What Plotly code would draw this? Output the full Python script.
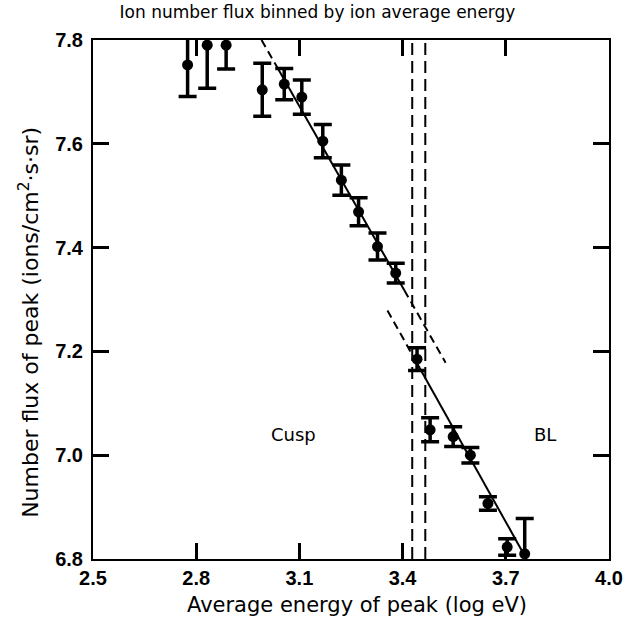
import plotly.graph_objects as go

# Binned ion number flux versus average ion energy
energy = [2.775, 2.832, 2.887, 2.992, 3.056, 3.107, 3.168, 3.222, 3.272,
          3.327, 3.380, 3.442, 3.480, 3.547, 3.597, 3.648, 3.704, 3.755]
flux = [7.752, 7.790, 7.790, 7.704, 7.715, 7.690, 7.605, 7.530, 7.469,
        7.402, 7.351, 7.185, 7.049, 7.036, 7.000, 6.907, 6.823, 6.810]
flux_err = [0.061, 0.083, 0.046, 0.051, 0.030, 0.033, 0.032, 0.029, 0.027,
            0.026, 0.019, 0.022, 0.023, 0.019, 0.015, 0.013, 0.016, 0.068]

# Straight-line fits for the two regimes: slope and a point on the line
cusp_slope, cusp_x0, cusp_y0 = -1.162, 2.99, 7.80
bl_slope, bl_x0, bl_y0 = -1.185, 3.437, 7.183
cusp_solid = [3.03, 3.405]
cusp_dashed = [[2.99, 3.03], [3.405, 3.525]]
bl_solid = [3.437, 3.76]
bl_dashed = [[3.356, 3.437]]

# Cusp / boundary-layer transition
boundaries = [3.428, 3.466]
regions = ["Cusp", "BL"]
region_x = [3.083, 3.814]
region_y = 7.04

x_ticks = [2.5, 2.8, 3.1, 3.4, 3.7, 4.0]
y_ticks = [6.8, 7.0, 7.2, 7.4, 7.6, 7.8]

TEXT_FONT = "DejaVu Sans"
TICK_FONT = "Liberation Sans"


def fit_y(slope, x0, y0, xs):
    return [y0 + slope * (x - x0) for x in xs]


fig = go.Figure()

# fit lines
fig.add_trace(go.Scatter(x=cusp_solid, y=fit_y(cusp_slope, cusp_x0, cusp_y0, cusp_solid),
                         mode="lines", line=dict(color="black", width=2),
                         hoverinfo="skip"))
for seg in cusp_dashed:
    fig.add_trace(go.Scatter(x=seg, y=fit_y(cusp_slope, cusp_x0, cusp_y0, seg),
                             mode="lines", line=dict(color="black", width=2, dash="8px,5px"),
                             hoverinfo="skip"))
fig.add_trace(go.Scatter(x=bl_solid, y=fit_y(bl_slope, bl_x0, bl_y0, bl_solid),
                         mode="lines", line=dict(color="black", width=2),
                         hoverinfo="skip"))
for seg in bl_dashed:
    fig.add_trace(go.Scatter(x=seg, y=fit_y(bl_slope, bl_x0, bl_y0, seg),
                             mode="lines", line=dict(color="black", width=2, dash="8px,5px"),
                             hoverinfo="skip"))

# measured points with error bars
fig.add_trace(go.Scatter(
    x=energy, y=flux, mode="markers",
    marker=dict(color="black", size=11, symbol="circle"),
    error_y=dict(type="data", array=flux_err, visible=True,
                 color="black", thickness=3.5, width=9),
))

for bx in boundaries:
    fig.add_shape(type="line", xref="x", yref="paper", x0=bx, x1=bx, y0=0, y1=1,
                  line=dict(color="black", width=2, dash="12px,6px"))

for name, rx in zip(regions, region_x):
    fig.add_annotation(x=rx, y=region_y, text=name, showarrow=False,
                       font=dict(family=TEXT_FONT, size=18, color="black"))

# axis titles
fig.add_annotation(xref="paper", yref="paper", x=0.511, y=-0.088,
                   xanchor="center", yanchor="middle", showarrow=False,
                   text="Average energy of peak (log eV)",
                   font=dict(family=TEXT_FONT, size=21, color="black"))
fig.add_annotation(xref="paper", yref="paper", x=-0.124, y=0.455,
                   xanchor="center", yanchor="middle", showarrow=False, textangle=-90,
                   text="Number flux of peak (ions/cm<sup>2</sup>·s·sr)",
                   font=dict(family=TEXT_FONT, size=22, color="black"))

axis_common = dict(
    showline=True, linecolor="black", linewidth=2, mirror="ticks",
    ticks="inside", ticklen=16, tickwidth=2.5, tickcolor="black",
    showgrid=False, zeroline=False,
    tickfont=dict(family=TICK_FONT, size=20, color="black", weight="bold"),
)

fig.update_xaxes(range=[2.5, 4.0], tickvals=x_ticks,
                 ticktext=[f"{v:.1f}" for v in x_ticks],
                 **axis_common)
fig.update_yaxes(range=[6.8, 7.8], tickvals=y_ticks,
                 ticktext=[f"{v:.1f}" for v in y_ticks],
                 ticklabelstandoff=4,
                 **axis_common)

fig.update_layout(
    width=635, height=622,
    margin=dict(l=93, r=19, t=40, b=63),
    paper_bgcolor="white", plot_bgcolor="white",
    showlegend=False,
    title=dict(text="Ion number flux binned by ion average energy",
               x=0.5, xanchor="center", y=0.99, yanchor="top",
               font=dict(family=TEXT_FONT, size=17, color="black")),
)

fig.write_html("out.html")
